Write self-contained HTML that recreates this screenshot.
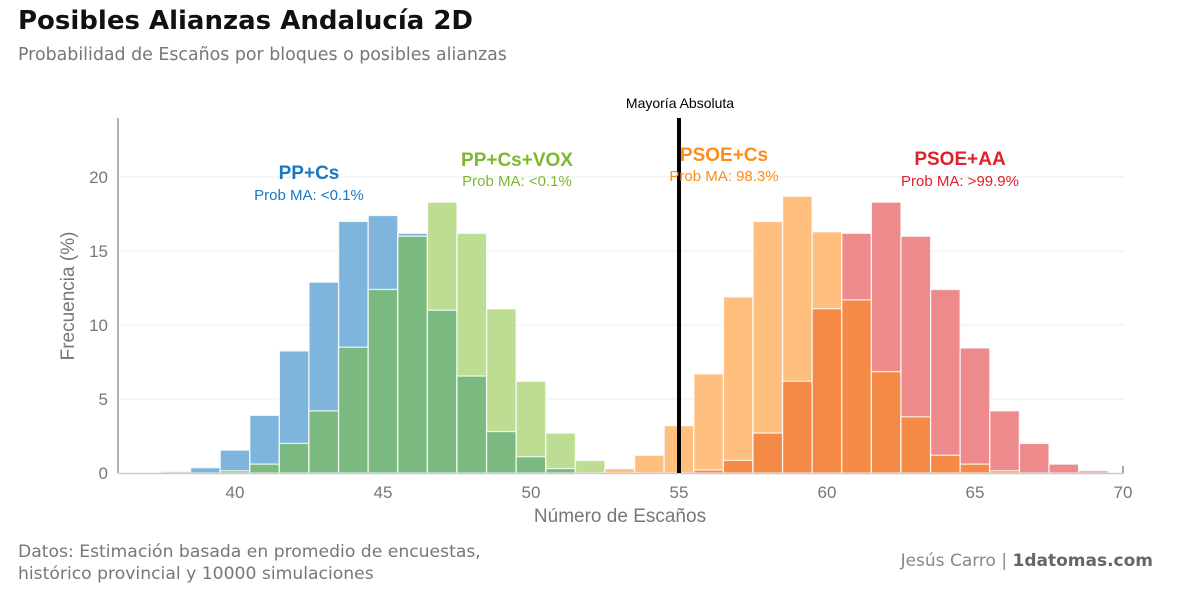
<!DOCTYPE html>
<html><head><meta charset="utf-8">
<style>
body{margin:0;background:#fff;font-family:"Liberation Sans",sans-serif;}
#wrap{position:relative;width:1181px;height:591px;overflow:hidden;}
.t{position:absolute;white-space:nowrap;}
</style></head><body>
<div id="wrap">
<div class="t" style="left:18px;top:6px;font-size:26px;font-weight:bold;color:#111;font-family:'DejaVu Sans',sans-serif;">Posibles Alianzas Andalucía 2D</div>
<div class="t" style="left:18px;top:45px;font-size:17.4px;color:#777;font-family:'DejaVu Sans',sans-serif;">Probabilidad de Escaños por bloques o posibles alianzas</div>
<div class="t" style="left:18px;top:541px;font-size:17.2px;color:#777;line-height:22px;font-family:'DejaVu Sans',sans-serif;">Datos: Estimación basada en promedio de encuestas,<br>histórico provincial y 10000 simulaciones</div>
<div class="t" style="right:28px;top:551px;font-size:17px;color:#888;font-family:'DejaVu Sans',sans-serif;">Jesús Carro | <b style="color:#666">1datomas.com</b></div>
<svg id="chart" width="1181" height="591" style="position:absolute;left:0;top:0"></svg>
</div>
<script>
const seats=[38,39,40,41,42,43,44,45,46,47,48,49,50,51,52,53,54,55,56,57,58,59,60,61,62,63,64,65,66,67,68,69];
const ppcs=[0.1,0.36,1.55,3.9,8.25,12.9,17.0,17.4,16.2,11.0,6.55,2.8,1.1,0.3,0,0,0,0,0,0,0,0,0,0,0,0,0,0,0,0,0,0];
const ppcsvox=[0,0,0.15,0.6,2.0,4.2,8.5,12.4,16.0,18.3,16.2,11.1,6.2,2.7,0.85,0.2,0,0,0,0,0,0,0,0,0,0,0,0,0,0,0,0];
const psoecs=[0,0,0,0,0,0,0,0,0,0,0,0,0,0,0,0.3,1.2,3.2,6.7,11.9,17.0,18.7,16.3,11.7,6.85,3.8,1.2,0.6,0.15,0,0,0];
const psoeaa=[0,0,0,0,0,0,0,0,0,0,0,0,0,0,0,0,0,0,0.2,0.85,2.7,6.2,11.1,16.2,18.3,16.0,12.4,8.45,4.2,2.0,0.6,0.15];
const xTicks=[40,45,50,55,60,65,70];
const yTicks=[0,5,10,15,20];
const majority=55;
const NS="http://www.w3.org/2000/svg";
const svg=document.getElementById('chart');
const x=v=>235+(v-40)*29.6;
const y=v=>473-v*14.8;
function mk(t,a){const e=document.createElementNS(NS,t);for(const k in a)e.setAttribute(k,a[k]);svg.appendChild(e);return e;}
yTicks.forEach(v=>{if(v>0){const g=mk('line',{x1:118,x2:1124,y1:y(v),y2:y(v),stroke:'#ececec','stroke-width':1});

}
const t=mk('text',{x:108,y:y(v)+6,'text-anchor':'end','font-size':17,fill:'#777'});t.textContent=v;

});
xTicks.forEach(v=>{const t=mk('text',{x:x(v),y:498,'text-anchor':'middle','font-size':17,fill:'#777'});t.textContent=v;


const k=mk('line',{x1:x(v),x2:x(v),y1:466,y2:473,stroke:'#555','stroke-width':1});

});
function pair(a,b,ca,cb,cov,name){
 seats.forEach((s,i)=>{
  const va=a[i],vb=b[i];if(va<=0&&vb<=0)return;
  const hi=Math.max(va,vb),lo=Math.min(va,vb);
  const r=mk('rect',{x:x(s-0.5),y:y(hi),width:29.6,height:y(0)-y(hi),fill:va>=vb?ca:cb,stroke:'#fff','stroke-width':1.3,'stroke-opacity':0.8});
  
  
  if(lo>0){const r2=mk('rect',{x:x(s-0.5),y:y(lo),width:29.6,height:y(0)-y(lo),fill:cov,stroke:'#fff','stroke-width':1.3,'stroke-opacity':0.8});
  
  }
 });
}
pair(ppcs,ppcsvox,'#7fb5dc','#bddd92','#7ab97f','right-bloc');
pair(psoecs,psoeaa,'#ffbf7f','#ec8a8c','#f48a45','left-bloc');
const ax=mk('line',{x1:118,x2:118,y1:118,y2:473,stroke:'#666','stroke-width':1});


const bx=mk('line',{x1:118,x2:1124,y1:473.5,y2:473.5,stroke:'#ccc','stroke-width':1.5});


const ml=mk('line',{x1:x(majority),x2:x(majority),y1:118,y2:473,stroke:'#000','stroke-width':4});


function txt(s,xx,yy,sz,col,bold,name){const t=mk('text',{x:xx,y:yy,'text-anchor':'middle','font-size':sz,fill:col,'font-weight':bold?'bold':'normal'});t.textContent=s;

return t;}
txt('Mayoría Absoluta',680,108,14,'#000',false,'majority-label');
txt('Número de Escaños',620,522,19,'#777',false,'x-axis-title');
const yt=txt('Frecuencia (%)',0,0,19,'#777',false,'y-axis-title');yt.setAttribute('transform','translate(74,296) rotate(-90)');
txt('PP+Cs',309,179,19,'#1a78c2',true,'label-ppcs');
txt('Prob MA: <0.1%',309,200,15,'#1a78c2',false,'prob-ppcs');
txt('PP+Cs+VOX',517,166,19,'#7cb82f',true,'label-ppcsvox');
txt('Prob MA: <0.1%',517,186,15,'#7cb82f',false,'prob-ppcsvox');
txt('PSOE+Cs',724,161,19,'#ff8c1a',true,'label-psoecs');
txt('Prob MA: 98.3%',724,181,15,'#ff8c1a',false,'prob-psoecs');
txt('PSOE+AA',960,165,19,'#e0202a',true,'label-psoeaa');
txt('Prob MA: >99.9%',960,186,15,'#e0202a',false,'prob-psoeaa');
</script>
</body></html>
